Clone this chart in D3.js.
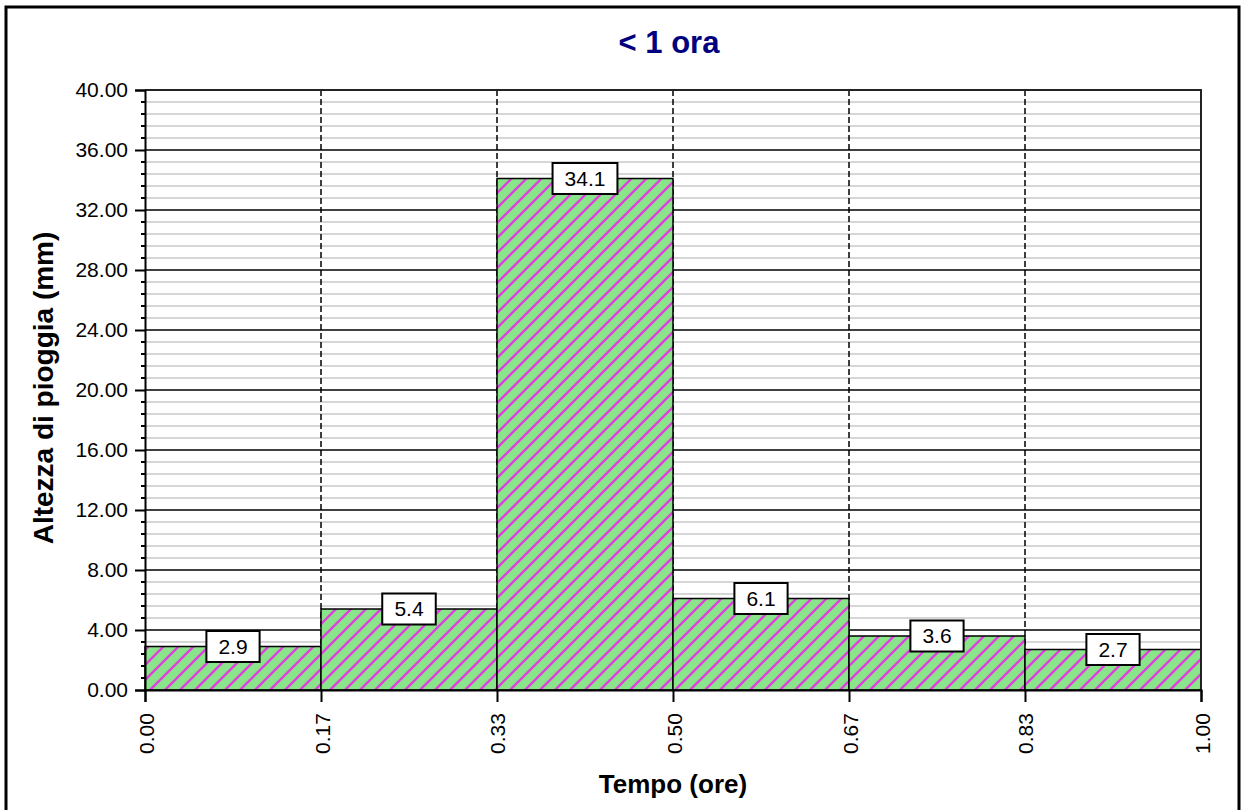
<!DOCTYPE html>
<html>
<head>
<meta charset="utf-8">
<script src="https://cdn.jsdelivr.net/npm/d3@7"></script>
<style>
  body{margin:0;background:#fff;}
  text{font-family:"Liberation Sans",Arial,sans-serif;}
</style>
</head>
<body>
<div id="chart"></div>
<script>
// bin edges in hours (6 intervals of 10 minutes)
var binEdges = [0, 0.16667, 0.33333, 0.5, 0.66667, 0.83333, 1];
var rainValues = [2.9, 5.4, 34.1, 6.1, 3.6, 2.7];
var xTickLabels = ["0.00", "0.17", "0.33", "0.50", "0.67", "0.83", "1.00"];
var yMajorTicks = [0, 4, 8, 12, 16, 20, 24, 28, 32, 36, 40];
var chartTitle = "< 1 ora";
var xTitle = "Tempo (ore)";
var yTitle = "Altezza di pioggia (mm)";

var width = 1242, height = 810;
var margin = {left:145, right:41, top:90, bottom:120};

var svg = d3.select("#chart").append("svg")
    .attr("width", width)
    .attr("height", height);

// hatch pattern for the bars
var defs = svg.append("defs");
var pat = defs.append("pattern")
    .attr("id", "hatch")
    .attr("patternUnits", "userSpaceOnUse")
    .attr("width", 15)
    .attr("height", 15);
pat.append("rect").attr("width", 15).attr("height", 15).attr("fill", "#8ae48a");
pat.append("path")
    .attr("d", "M-2,2 l4,-4 M0,15 l15,-15 M13,17 l4,-4")
    .attr("stroke", "#e03fe0")
    .attr("stroke-width", 2.4);

// outer frame
svg.append("rect")
    .attr("x", 6).attr("y", 7)
    .attr("width", 1233).attr("height", 812)
    .attr("fill", "none")
    .attr("stroke", "#000")
    .attr("stroke-width", 3);

var xScale = d3.scaleLinear()
    .domain([0, 1])
    .range([margin.left, width - margin.right]);

var yScale = d3.scaleLinear()
    .domain([0, 40])
    .range([height - margin.bottom, margin.top]);

var x0 = xScale(0), x1 = xScale(1), y0 = yScale(0), y1 = yScale(40);

// minor grid (every 0.8)
var minor = d3.range(0, 40.01, 0.8).filter(function(v){
    return Math.abs(v/4 - Math.round(v/4)) > 0.01;
});
svg.append("g").selectAll("line")
    .data(minor).enter().append("line")
    .attr("x1", x0).attr("x2", x1)
    .attr("y1", function(d){ return yScale(d); })
    .attr("y2", function(d){ return yScale(d); })
    .attr("stroke", "#c9c9c9")
    .attr("stroke-width", 1.5);

// major horizontal grid
svg.append("g").selectAll("line")
    .data(yMajorTicks).enter().append("line")
    .attr("x1", x0).attr("x2", x1)
    .attr("y1", function(d){ return yScale(d); })
    .attr("y2", function(d){ return yScale(d); })
    .attr("stroke", "#000")
    .attr("stroke-width", 1.5);

// vertical dashed grid
svg.append("g").selectAll("line")
    .data(binEdges.slice(1, -1)).enter().append("line")
    .attr("x1", function(d){ return xScale(d); })
    .attr("x2", function(d){ return xScale(d); })
    .attr("y1", y1).attr("y2", y0)
    .attr("stroke", "#000")
    .attr("stroke-width", 1.5)
    .attr("stroke-dasharray", "6,3");

// bars
var bars = rainValues.map(function(v, i){
    return {value:v, a:binEdges[i], b:binEdges[i+1]};
});
svg.append("g").selectAll("rect")
    .data(bars).enter().append("rect")
    .attr("x", function(d){ return xScale(d.a); })
    .attr("y", function(d){ return yScale(d.value); })
    .attr("width", function(d){ return xScale(d.b) - xScale(d.a); })
    .attr("height", function(d){ return y0 - yScale(d.value); })
    .attr("fill", "url(#hatch)")
    .attr("stroke", "#000")
    .attr("stroke-width", 1.5);

// plot frame (top/right)
svg.append("path")
    .attr("d", "M" + x0 + "," + y1 + "H" + x1 + "V" + y0)
    .attr("fill", "none")
    .attr("stroke", "#222")
    .attr("stroke-width", 2);

// y axis
var yAxis = d3.axisLeft(yScale)
    .tickValues(yMajorTicks)
    .tickSize(10)
    .tickPadding(7)
    .tickFormat(d3.format(".2f"));
var gy = svg.append("g")
    .attr("transform", "translate(" + x0 + ",0)")
    .call(yAxis);
gy.select(".domain").attr("stroke-width", 2);
gy.selectAll(".tick line").attr("stroke-width", 2);
gy.selectAll("text").attr("font-size", 21).attr("fill", "#000")
    .attr("font-family", "'Liberation Sans',Arial,sans-serif");
// minor ticks
gy.append("g").selectAll("line")
    .data(minor).enter().append("line")
    .attr("x1", -4).attr("x2", 0)
    .attr("y1", function(d){ return yScale(d); })
    .attr("y2", function(d){ return yScale(d); })
    .attr("stroke", "#000")
    .attr("stroke-width", 2);

// x axis
var xAxis = d3.axisBottom(xScale)
    .tickValues(binEdges)
    .tickSize(12)
    .tickFormat(function(d, i){ return xTickLabels[i]; });
var gx = svg.append("g")
    .attr("transform", "translate(0," + y0 + ")")
    .call(xAxis);
gx.select(".domain").attr("stroke-width", 2);
gx.selectAll(".tick line").attr("stroke-width", 2);
gx.selectAll("text")
    .attr("font-size", 21)
    .attr("fill", "#000")
    .attr("font-family", "'Liberation Sans',Arial,sans-serif")
    .attr("text-anchor", "start")
    .attr("dy", null)
    .attr("y", 0)
    .attr("transform", "translate(8,64) rotate(-90)");

// value labels
var labels = svg.append("g").selectAll("g")
    .data(bars).enter().append("g")
    .attr("transform", function(d){
        return "translate(" + xScale((d.a + d.b) / 2) + "," + yScale(d.value) + ")";
    });
labels.append("text")
    .attr("text-anchor", "middle")
    .attr("dy", "0.35em")
    .attr("font-size", 21)
    .text(function(d){ return d.value.toFixed(1); });
labels.each(function(){
    var g = d3.select(this);
    var bb = g.select("text").node().getBBox();
    var padX = 12;
    g.insert("rect", "text")
        .attr("x", -bb.width / 2 - padX)
        .attr("y", -15.5)
        .attr("width", bb.width + padX * 2)
        .attr("height", 31)
        .attr("fill", "#fff")
        .attr("stroke", "#000")
        .attr("stroke-width", 2);
});

// titles
svg.append("text")
    .attr("x", (x0 + x1) / 2 - 4)
    .attr("y", 53)
    .attr("text-anchor", "middle")
    .attr("font-size", 31)
    .attr("font-weight", "bold")
    .attr("fill", "#000080")
    .text(chartTitle);

svg.append("text")
    .attr("x", (x0 + x1) / 2)
    .attr("y", 793)
    .attr("text-anchor", "middle")
    .attr("font-size", 26)
    .attr("font-weight", "bold")
    .attr("fill", "#000")
    .text(xTitle);

svg.append("text")
    .attr("transform", "translate(53," + ((y0 + y1) / 2 - 2) + ") rotate(-90)")
    .attr("text-anchor", "middle")
    .attr("font-size", 28)
    .attr("font-weight", "bold")
    .attr("fill", "#000")
    .text(yTitle);
</script>
</body>
</html>
